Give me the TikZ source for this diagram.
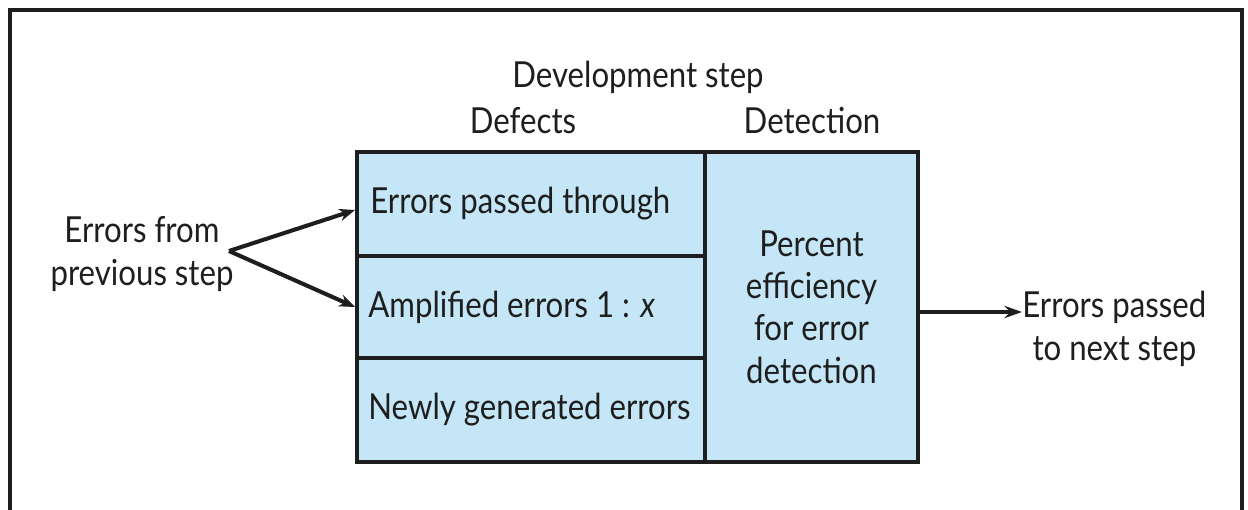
\documentclass[tikz,border=0pt]{standalone}
\usepackage{fontspec}
\setmainfont[FakeStretch=0.87]{Lato}
\usetikzlibrary{arrows.meta}
\definecolor{boxfill}{HTML}{C5E6F6}
\definecolor{ink}{HTML}{1E1E1E}
\begin{document}
\begin{tikzpicture}[x=0.02cm,y=-0.02cm,
  txt/.style={font=\fontsize{20.4}{24.1}\selectfont, text=ink, inner sep=0pt, align=center},
  cell/.style={draw=ink, line width=2.3pt, fill=boxfill, inner sep=0pt},
  arr/.style={draw=ink, line width=2.3pt, -{Stealth[length=9pt,width=7pt]}},
  arrthin/.style={draw=ink, line width=1.8pt, -{Stealth[length=10pt,width=7pt]}}
]
\useasboundingbox (0,0) rectangle (1248,510);
\fill[white] (0,0) rectangle (1248,510);
% outer frame
\draw[ink, line width=2pt] (10,510) -- (10,10) -- (1242,10) -- (1242,510);

% cells
\node[cell, minimum width=6.96cm, minimum height=2.08cm] (r1) at (531,204) {};
\node[cell, minimum width=6.96cm, minimum height=2.04cm] (r2) at (531,307) {};
\node[cell, minimum width=6.96cm, minimum height=2.08cm] (r3) at (531,410) {};
\node[cell, minimum width=4.26cm, minimum height=6.2cm, txt] (det) at (811.5,307)
  {Percent\\efficiency\\for error\\detection};

% cell texts
\node[txt, anchor=west] (t1) at ([xshift=0.3cm]r1.west) {Errors passed through};
\node[txt, anchor=west] (t2) at ([xshift=0.26cm]r2.west) {Amplified errors 1 : \textit{x}};
\node[txt, anchor=west] (t3) at ([xshift=0.26cm]r3.west) {Newly generated errors};

% headings
\node[txt, anchor=base] (dev) at (638,88) {Development step};
\node[txt, anchor=base] (defh) at (523,133) {Defects};
\node[txt, anchor=base] (deth) at (812,133) {Detection};

% side labels
\node[txt, anchor=base] (src) at (142,285) {Errors from\\previous step};
\node[txt, anchor=base west] (out) at (1022,360) {Errors passed\\to next step};

% connectors
\coordinate (fork) at (229,251);
\draw[arr] (fork) -- ([yshift=-0.12cm]r1.west);
\draw[arr] (fork) -- (r2.west);
\draw[arrthin] ([yshift=-0.1cm]det.east) -- ([yshift=-0.1cm]det.east -| out.west);
\end{tikzpicture}
\end{document}
